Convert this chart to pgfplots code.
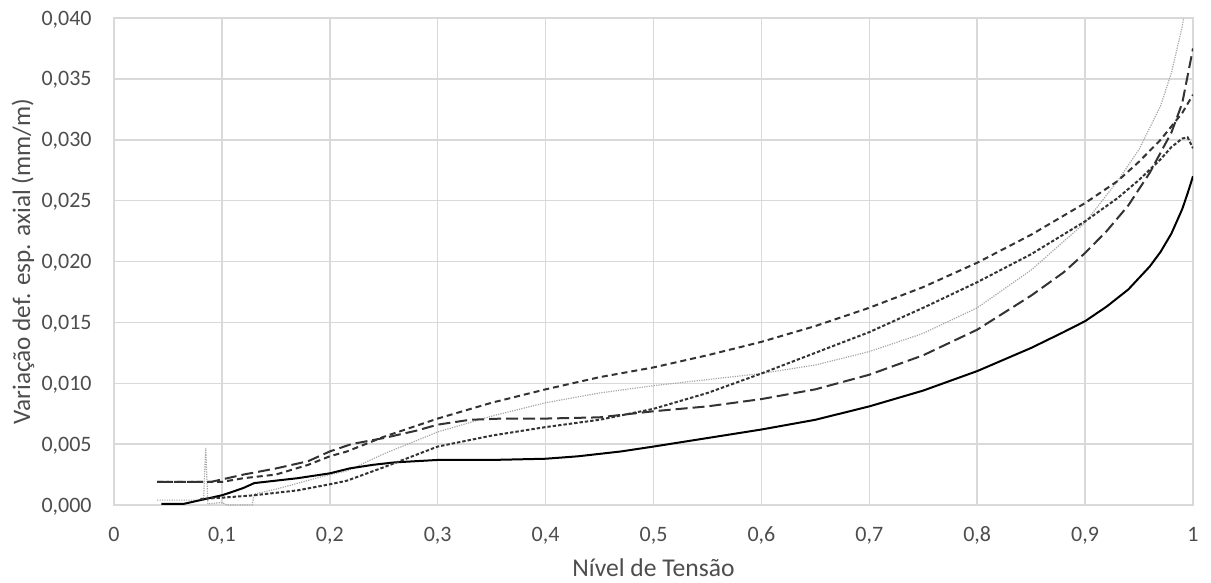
\documentclass[border=0pt]{standalone}
\usepackage{fontspec}
\setmainfont{Carlito}
\usepackage{pgfplots}
\pgfplotsset{compat=1.18}
\definecolor{gridc}{HTML}{D9D9D9}
\definecolor{txt}{HTML}{4D4D4D}
\definecolor{dk}{HTML}{333333}
\definecolor{lg}{HTML}{A6A6A6}
\begin{document}
\begin{tikzpicture}
\useasboundingbox (-57bp,-39bp) rectangle (548.5bp,252.5bp);
\begin{axis}[at={(0,0)}, anchor=south west, scale only axis,
  width=539.5bp, height=243.5bp,
  xmin=0, xmax=1, ymin=0, ymax=0.04,
  xtick={0,0.1,0.2,0.3,0.4,0.5,0.6,0.7,0.8,0.9,1},
  ytick={0,0.005,0.01,0.015,0.02,0.025,0.03,0.035,0.04},
  scaled y ticks=false, scaled x ticks=false,
  grid=major, major grid style={draw=gridc, line width=0.75bp},
  axis line style={draw=gridc, line width=0.75bp},
  major tick length=0pt, tick style={draw=none},
  /pgf/number format/assume math mode=true,
  yticklabel style={/pgf/number format/fixed, /pgf/number format/fixed zerofill, /pgf/number format/precision=3, /pgf/number format/use comma},
  xticklabel style={/pgf/number format/fixed, /pgf/number format/precision=1, /pgf/number format/use comma},
  ticklabel style={font=\fontsize{11bp}{13bp}\selectfont, text=txt},
  yticklabel style={anchor=base east, inner sep=0pt, xshift=-11bp, yshift=-3.5bp},
  xticklabel style={anchor=base, inner sep=0pt, yshift=-18.25bp},
  xlabel={Nível de Tensão},
  ylabel={Variação def. esp. axial (mm/m)},
  xlabel style={at={(axis description cs:0.5,-0.1294)}, anchor=center, font=\fontsize{12.8bp}{15bp}\selectfont, text=txt},
  ylabel style={at={(axis description cs:-0.0843,0.5)}, anchor=center, font=\fontsize{12.6bp}{15bp}\selectfont, text=txt},
]
% light grey dotted
\addplot[lg, line width=0.6bp, dash pattern=on 0.6bp off 0.6bp] coordinates {
(0.04,0.0004)(0.083,0.0004)(0.085,0.0047)(0.087,0.0001)(0.1,0.0002)(0.105,0.0000)
(0.128,0.0000)(0.13,0.0009)(0.15,0.0013)(0.2,0.0025)(0.216,0.0028)(0.25,0.0042)
(0.3,0.0060)(0.35,0.0073)(0.4,0.0084)(0.45,0.0092)(0.5,0.0098)(0.55,0.0103)
(0.6,0.0108)(0.65,0.0115)(0.7,0.0126)(0.75,0.0141)(0.8,0.0162)(0.85,0.0193)
(0.9,0.0232)(0.93,0.0266)(0.95,0.0292)(0.97,0.0328)(0.98,0.0355)(0.99,0.0393)(0.995,0.0420)};
% solid
\addplot[black, line width=1bp] coordinates {
(0.044,0.0001)(0.065,0.0001)(0.08,0.0004)(0.1,0.0008)(0.107,0.0010)(0.12,0.0014)
(0.13,0.0018)(0.15,0.0020)(0.17,0.0022)(0.2,0.0026)(0.218,0.0030)(0.24,0.0033)
(0.26,0.0035)(0.28,0.0036)(0.3,0.0037)(0.35,0.0037)(0.4,0.0038)(0.43,0.0040)
(0.47,0.0044)(0.5,0.0048)(0.55,0.0055)(0.6,0.0062)(0.65,0.0070)(0.7,0.0081)
(0.75,0.0094)(0.8,0.0110)(0.85,0.0129)(0.88,0.0142)(0.9,0.0151)(0.92,0.0163)
(0.94,0.0177)(0.96,0.0196)(0.97,0.0208)(0.98,0.0223)(0.99,0.0243)(0.995,0.0256)(1.0,0.0270)};
% long dash
\addplot[dk, line width=1bp, dash pattern=on 6bp off 2.5bp] coordinates {
(0.04,0.0019)(0.09,0.0019)(0.1,0.0021)(0.12,0.0025)(0.15,0.0030)(0.18,0.0036)
(0.2,0.0044)(0.22,0.0050)(0.25,0.0055)(0.28,0.0061)(0.3,0.0066)(0.33,0.0070)
(0.36,0.0071)(0.4,0.0071)(0.45,0.0072)(0.5,0.0077)(0.55,0.0081)(0.6,0.0087)
(0.65,0.0095)(0.7,0.0107)(0.75,0.0123)(0.8,0.0144)(0.85,0.0172)(0.88,0.0191)
(0.9,0.0207)(0.92,0.0225)(0.94,0.0246)(0.96,0.0273)(0.98,0.0306)(0.99,0.0330)(1.0,0.0375)};
% short dash (upper)
\addplot[dk, line width=1bp, dash pattern=on 3bp off 2bp] coordinates {
(0.04,0.0019)(0.1,0.0019)(0.12,0.0022)(0.15,0.0025)(0.18,0.0033)(0.2,0.0040)
(0.216,0.0044)(0.25,0.0056)(0.3,0.0071)(0.35,0.0084)(0.4,0.0095)(0.45,0.0105)
(0.5,0.0113)(0.55,0.0123)(0.6,0.0134)(0.65,0.0147)(0.7,0.0162)(0.75,0.0179)
(0.8,0.0199)(0.85,0.0222)(0.9,0.0248)(0.93,0.0266)(0.95,0.0282)(0.97,0.0300)
(0.99,0.0322)(1.0,0.0337)};
% dense dash
\addplot[dk, line width=1bp, dash pattern=on 1.7bp off 1bp] coordinates {
(0.08,0.0005)(0.1,0.0006)(0.13,0.0008)(0.17,0.0012)(0.2,0.0017)(0.216,0.0020)
(0.25,0.0031)(0.3,0.0048)(0.35,0.0057)(0.4,0.0064)(0.45,0.0070)(0.5,0.0079)
(0.55,0.0092)(0.6,0.0108)(0.65,0.0125)(0.7,0.0142)(0.75,0.0162)(0.8,0.0183)
(0.85,0.0206)(0.9,0.0233)(0.93,0.0252)(0.95,0.0267)(0.97,0.0284)(0.98,0.0294)
(0.99,0.0301)(0.995,0.0302)(1.0,0.0293)};
\end{axis}
\end{tikzpicture}
\end{document}
